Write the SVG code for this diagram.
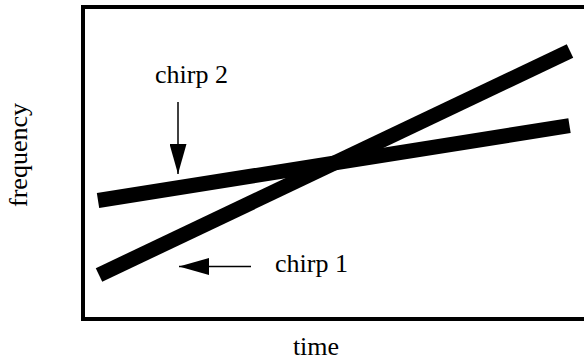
<svg xmlns="http://www.w3.org/2000/svg" width="584" height="363" viewBox="0 0 584 363">
  <style>
    .lbl { font-family: "Liberation Serif", "Times New Roman", serif; font-size: 26px; fill: #000; }
    .chirp { stroke: #000; stroke-width: 15; stroke-linecap: butt; fill: none; }
    .ptr { stroke: #000; stroke-width: 1.5; fill: none; }
  </style>
  <defs>
    <marker id="head" viewBox="0 0 30 17" refX="30" refY="8.5" markerWidth="30" markerHeight="17" markerUnits="userSpaceOnUse" orient="auto">
      <path d="M0,0 L30,8.5 L0,17 Z" fill="#000"/>
    </marker>
  </defs>
  <rect width="584" height="363" fill="#fff"/>

  <!-- plot frame (right side runs past the canvas) -->
  <g id="frame">
    <rect x="83" y="7" width="520" height="312" fill="none" stroke="#000" stroke-width="4"/>
  </g>

  <!-- frequency sweeps -->
  <g id="chirp1-line">
    <line class="chirp" x1="99" y1="275" x2="570" y2="51"/>
  </g>
  <g id="chirp2-line">
    <line class="chirp" x1="98" y1="200.5" x2="569.5" y2="125.7"/>
  </g>

  <!-- labels -->
  <g id="chirp2-label">
    <text class="lbl" x="155" y="83">chirp 2</text>
  </g>
  <g id="chirp1-label">
    <text class="lbl" x="275" y="272">chirp 1</text>
  </g>
  <g id="time-label">
    <text class="lbl" x="316" y="355" text-anchor="middle">time</text>
  </g>
  <g id="frequency-label">
    <text class="lbl" transform="translate(27,155) rotate(-90)" text-anchor="middle">frequency</text>
  </g>

  <!-- pointer arrows -->
  <g id="connectors">
    <line class="ptr" x1="178" y1="102" x2="178" y2="174" marker-end="url(#head)"/>
    <line class="ptr" x1="251" y1="266.5" x2="179" y2="266.5" marker-end="url(#head)"/>
  </g>
</svg>
